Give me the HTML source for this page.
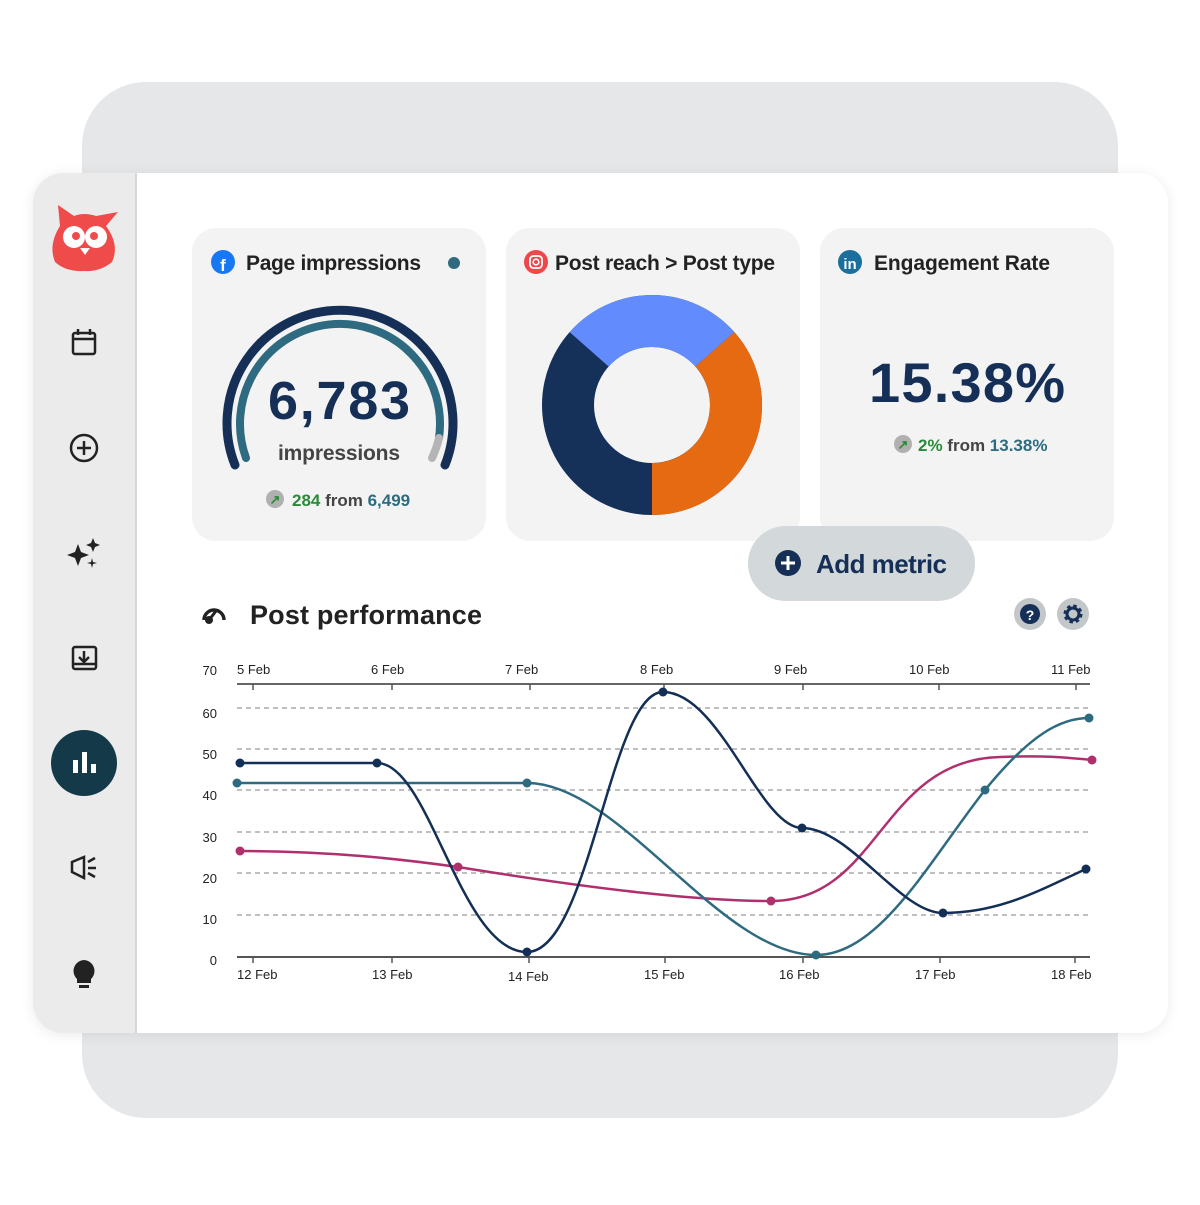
<!DOCTYPE html>
<html><head><meta charset="utf-8"><style>
body{margin:0;width:1200px;height:1200px;background:#fff;font-family:"Liberation Sans",sans-serif;overflow:hidden}
</style></head><body>
<svg width="1200" height="1200" viewBox="0 0 1200 1200" xmlns="http://www.w3.org/2000/svg" font-family="Liberation Sans, sans-serif">
<defs><filter id="sh" x="-10%" y="-10%" width="120%" height="120%"><feDropShadow dx="0" dy="2" stdDeviation="6" flood-color="#000" flood-opacity="0.08"/></filter></defs>
<rect x="82" y="82" width="1036" height="1036" rx="64" fill="#e6e7e8"/>
<rect x="33" y="173" width="1135" height="860" rx="30" fill="#fff" filter="url(#sh)"/>
<path d="M63,173 H137 V1033 H63 A30,30 0 0 1 33,1003 V203 A30,30 0 0 1 63,173Z" fill="#ebebeb"/>
<rect x="135" y="173" width="2" height="860" fill="#d6d6d6"/>
<!-- owl -->
<path d="M58,205 L74,216 Q84,212 96,216 L118,212 L106,226 Q120,245 112,262 Q100,272 84,271 Q66,272 55,262 Q48,245 60,226Z" fill="#f04b4b"/>
<circle cx="74" cy="237" r="11" fill="#fff"/><circle cx="96" cy="237" r="11" fill="#fff"/>
<circle cx="76" cy="236" r="4" fill="#f04b4b"/><circle cx="94" cy="236" r="4" fill="#f04b4b"/>
<path d="M80,248 L90,248 L85,255Z" fill="#fff"/>
<!-- sidebar icons -->
<g fill="none" stroke="#222" stroke-width="2.5">
<rect x="73" y="333" width="22" height="21" rx="2"/><line x1="73" y1="339" x2="95" y2="339"/><line x1="78" y1="329" x2="78" y2="335"/><line x1="90" y1="329" x2="90" y2="335"/>
<circle cx="84" cy="448" r="13"/><line x1="84" y1="441" x2="84" y2="455"/><line x1="77" y1="448" x2="91" y2="448"/>
<rect x="73" y="647" width="23" height="22" rx="2"/><path d="M84,651 V661 M79,657 L84,662 L89,657 M73,664 H96"/>
<path d="M72,862 L84,857 V878 L72,872Z M88,862 L95,858 M88,868 H96 M88,873 L95,877"/>
</g>
<path d="M78,544 L81,552 L89,555 L81,558 L78,566 L75,558 L67,555 L75,552Z M93,538 L95,543 L100,545 L95,547 L93,552 L91,547 L86,545 L91,543Z M92,558 L93,562 L97,563 L93,564 L92,568 L91,564 L87,563 L91,562Z" fill="#222"/>
<path d="M84,960 A11,11 0 0 1 91,979 V983 H77 V979 A11,11 0 0 1 84,960Z" fill="#222"/><rect x="79" y="985" width="10" height="3" fill="#222"/>
<circle cx="84" cy="763" r="33" fill="#143a4a"/>
<g fill="#fff"><rect x="73" y="760" width="5" height="13"/><rect x="82" y="752" width="5" height="21"/><rect x="91" y="764" width="5" height="9"/></g>
<!-- cards -->
<rect x="192" y="228" width="294" height="313" rx="24" fill="#f3f3f3"/>
<rect x="506" y="228" width="294" height="313" rx="24" fill="#f3f3f3"/>
<rect x="820" y="228" width="294" height="313" rx="24" fill="#f3f3f3"/>
<!-- card 1 -->
<circle cx="223" cy="262" r="12" fill="#1877f2"/><text x="223" y="271" font-size="17" font-weight="bold" fill="#fff" text-anchor="middle">f</text>
<text x="246" y="270" font-size="21" font-weight="bold" fill="#222" textLength="175">Page impressions</text>
<circle cx="454" cy="263" r="6" fill="#2e6b80"/>
<path d="M235,465 A113,113 0 1 1 445,465" fill="none" stroke="#152f57" stroke-width="9" stroke-linecap="round"/>
<path d="M246,458 A100,100 0 1 1 439,438" fill="none" stroke="#2e6b80" stroke-width="8" stroke-linecap="round"/>
<path d="M439,438 A100,100 0 0 1 432,458" fill="none" stroke="#b5b5b5" stroke-width="8" stroke-linecap="round"/>
<text x="339" y="419" font-size="54" font-weight="bold" fill="#152f57" text-anchor="middle" textLength="142">6,783</text>
<text x="339" y="460" font-size="21" font-weight="bold" fill="#444" text-anchor="middle" textLength="122">impressions</text>
<circle cx="275" cy="499" r="9" fill="#b0b0b0"/><text x="275" y="504" font-size="13" font-weight="bold" fill="#2a8a3a" text-anchor="middle">↗</text>
<text x="292" y="506" font-size="17" font-weight="bold"><tspan fill="#2a8a3a">284 </tspan><tspan fill="#444">from </tspan><tspan fill="#2e6b80">6,499</tspan></text>
<!-- card 2 -->
<circle cx="536" cy="262" r="12" fill="#f0484a"/><rect x="530" y="256" width="12" height="12" rx="3.5" fill="none" stroke="#fff" stroke-width="1.8"/><circle cx="536" cy="262" r="2.8" fill="none" stroke="#fff" stroke-width="1.6"/>
<text x="555" y="270" font-size="21" font-weight="bold" fill="#222" textLength="220">Post reach &gt; Post type</text>
<g fill="none" stroke-width="52">
<circle cx="652" cy="405" r="84" stroke="#153059"/>
<path d="M589.1,349.3 A84,84 0 0 1 714.9,349.3" stroke="#628cfd"/>
<path d="M714.9,349.3 A84,84 0 0 1 652,489" stroke="#e66a12"/>
</g>
<!-- card 3 -->
<circle cx="850" cy="262" r="12" fill="#1a6f9c"/><text x="850" y="269" font-size="15" font-weight="bold" fill="#fff" text-anchor="middle">in</text>
<text x="874" y="270" font-size="21" font-weight="bold" fill="#222" textLength="176">Engagement Rate</text>
<text x="967" y="402" font-size="56" font-weight="bold" fill="#152f57" text-anchor="middle" textLength="196">15.38%</text>
<circle cx="903" cy="444" r="9" fill="#b0b0b0"/><text x="903" y="449" font-size="13" font-weight="bold" fill="#2a8a3a" text-anchor="middle">↗</text>
<text x="918" y="451" font-size="17" font-weight="bold"><tspan fill="#2a8a3a">2% </tspan><tspan fill="#444">from </tspan><tspan fill="#2e6b80">13.38%</tspan></text>
<!-- add metric -->
<rect x="748" y="526" width="227" height="75" rx="37.5" fill="#d3d8da"/>
<circle cx="788" cy="563" r="13" fill="#152f57"/><path d="M788,556 V570 M781,563 H795" stroke="#fff" stroke-width="3"/>
<text x="816" y="573" font-size="26" font-weight="bold" fill="#152f57" textLength="131">Add metric</text>
<!-- post performance -->
<path d="M204,620 A10,10 0 1 1 224,620" fill="none" stroke="#222" stroke-width="3.5"/><circle cx="209" cy="620" r="4" fill="#222"/><path d="M209,620 L216,611" stroke="#222" stroke-width="3"/>
<text x="250" y="624" font-size="27" font-weight="bold" fill="#222" textLength="232">Post performance</text>
<circle cx="1030" cy="614" r="16" fill="#c3c7ca"/><circle cx="1030" cy="614" r="10" fill="#152f57"/><text x="1030" y="620" font-size="14" font-weight="bold" fill="#fff" text-anchor="middle">?</text>
<circle cx="1073" cy="614" r="16" fill="#c3c7ca"/><circle cx="1073" cy="614" r="7" fill="none" stroke="#152f57" stroke-width="5" stroke-dasharray="3 2.5"/><circle cx="1073" cy="614" r="6" fill="none" stroke="#152f57" stroke-width="3"/>
<!-- chart -->
<g stroke="#999" stroke-width="1.3" stroke-dasharray="5 4">
<line x1="237" y1="708" x2="1090" y2="708"/><line x1="237" y1="749" x2="1090" y2="749"/><line x1="237" y1="790" x2="1090" y2="790"/><line x1="237" y1="832" x2="1090" y2="832"/><line x1="237" y1="873" x2="1090" y2="873"/><line x1="237" y1="915" x2="1090" y2="915"/>
</g>
<line x1="237" y1="684" x2="1090" y2="684" stroke="#666" stroke-width="2"/>
<line x1="237" y1="957" x2="1090" y2="957" stroke="#555" stroke-width="2"/>
<g stroke="#555" stroke-width="1.5">
<line x1="253" y1="684" x2="253" y2="690"/><line x1="392" y1="684" x2="392" y2="690"/><line x1="530" y1="684" x2="530" y2="690"/><line x1="664" y1="684" x2="664" y2="690"/><line x1="803" y1="684" x2="803" y2="690"/><line x1="939" y1="684" x2="939" y2="690"/><line x1="1076" y1="684" x2="1076" y2="690"/>
<line x1="253" y1="957" x2="253" y2="963"/><line x1="392" y1="957" x2="392" y2="963"/><line x1="529" y1="957" x2="529" y2="963"/><line x1="665" y1="957" x2="665" y2="963"/><line x1="803" y1="957" x2="803" y2="963"/><line x1="940" y1="957" x2="940" y2="963"/><line x1="1075" y1="957" x2="1075" y2="963"/>
</g>
<g font-size="13" fill="#222">
<text x="217" y="675" text-anchor="end">70</text><text x="217" y="718" text-anchor="end">60</text><text x="217" y="759" text-anchor="end">50</text><text x="217" y="800" text-anchor="end">40</text><text x="217" y="842" text-anchor="end">30</text><text x="217" y="883" text-anchor="end">20</text><text x="217" y="924" text-anchor="end">10</text><text x="217" y="965" text-anchor="end">0</text>
<text x="237" y="674">5 Feb</text><text x="371" y="674">6 Feb</text><text x="505" y="674">7 Feb</text><text x="640" y="674">8 Feb</text><text x="774" y="674">9 Feb</text><text x="909" y="674">10 Feb</text><text x="1051" y="674">11 Feb</text>
<text x="237" y="979">12 Feb</text><text x="372" y="979">13 Feb</text><text x="508" y="981">14 Feb</text><text x="644" y="979">15 Feb</text><text x="779" y="979">16 Feb</text><text x="915" y="979">17 Feb</text><text x="1051" y="979">18 Feb</text>
</g>
<g fill="none" stroke-width="2.5">
<path d="M240,851 C330,851 400,859 458,867 C600,890 700,901 771,901 C880,901 880,760 1000,757 C1050,755 1070,758 1092,760" stroke="#b0306e"/>
<path d="M237,783 L527,783 C620,783 720,955 816,955 C880,955 930,860 985,790 C1030,735 1060,718 1089,718" stroke="#2e6b80"/>
<path d="M240,763 L377,763 C430,763 460,952 527,952 C590,952 610,692 663,692 C720,692 760,828 802,828 C850,828 900,913 943,913 C1000,913 1040,890 1086,869" stroke="#142f57"/>
</g>
<g fill="#b0306e"><circle cx="240" cy="851" r="4.5"/><circle cx="458" cy="867" r="4.5"/><circle cx="771" cy="901" r="4.5"/><circle cx="1092" cy="760" r="4.5"/></g>
<g fill="#2e6b80"><circle cx="237" cy="783" r="4.5"/><circle cx="527" cy="783" r="4.5"/><circle cx="816" cy="955" r="4.5"/><circle cx="985" cy="790" r="4.5"/><circle cx="1089" cy="718" r="4.5"/></g>
<g fill="#142f57"><circle cx="240" cy="763" r="4.5"/><circle cx="377" cy="763" r="4.5"/><circle cx="527" cy="952" r="4.5"/><circle cx="663" cy="692" r="4.5"/><circle cx="802" cy="828" r="4.5"/><circle cx="943" cy="913" r="4.5"/><circle cx="1086" cy="869" r="4.5"/></g>
</svg>
</body></html>
